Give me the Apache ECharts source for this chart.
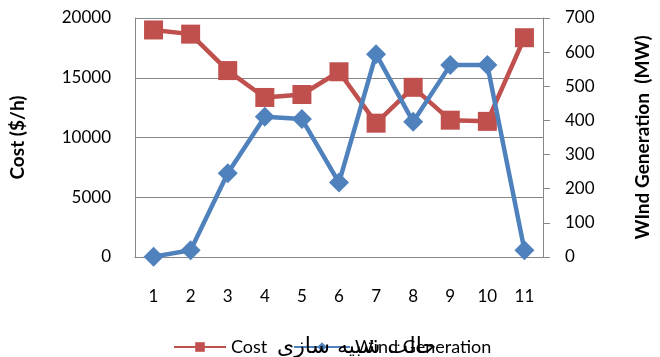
<!DOCTYPE html>
<html><head><meta charset="utf-8">
<script src="https://cdn.jsdelivr.net/npm/echarts@6/dist/echarts.min.js"></script>
<style>html,body{margin:0;padding:0;background:#fff}#c{width:660px;height:357px}</style>
</head><body><div id="c"></div>
<script>
const categories = ['1','2','3','4','5','6','7','8','9','10','11'];
const costValues = [19000, 18650, 15600, 13350, 13600, 15500, 11200, 14200, 11450, 11350, 18350];
const windValues = [1, 20, 245, 411, 404, 218, 594, 396, 562, 562, 20];
const costTicks = [0, 5000, 10000, 15000, 20000];
const windTicks = [0, 100, 200, 300, 400, 500, 600, 700];
const seriesNames = ['Cost', 'Wind Generation'];
const xTitle = 'حالت شبیه سازی';
const leftTitle = 'Cost ($/h)';
const rightTitle = 'WInd Generation  (MW)';

const FONT = 'Lato';
const legendText = {fontFamily: FONT, fontSize: 18, color: '#000'};
const chart = echarts.init(document.getElementById('c'), null, {renderer: 'canvas'});
chart.setOption({
  animation: false,
  backgroundColor: '#fff',
  grid: {left: 126, right: 97, top: 18, bottom: 100, containLabel: false},
  title: {
    text: xTitle, left: 277, top: 336, padding: 0,
    textStyle: {fontFamily: 'DejaVu Sans', fontSize: 22, fontWeight: 'normal', color: '#000'}
  },
  legend: [
    {data: [seriesNames[0]], left: 173, top: 338, padding: 0, itemWidth: 52, itemHeight: 12,
     textStyle: legendText},
    {data: [seriesNames[1]], left: 293, top: 338, padding: 0, itemWidth: 56, itemHeight: 12,
     textStyle: legendText}
  ],
  xAxis: {
    type: 'category', data: categories, boundaryGap: true,
    axisLine: {lineStyle: {color: '#868686', width: 1}},
    axisTick: {show: false},
    axisLabel: {fontFamily: FONT, fontSize: 17, color: '#000', margin: 31}
  },
  yAxis: [
    {
      type: 'value', min: costTicks[0], max: costTicks[costTicks.length-1], interval: 5000,
      name: leftTitle, nameLocation: 'middle', nameGap: 108, nameRotate: 90,
      nameTextStyle: {fontFamily: FONT, fontSize: 19, fontWeight: 'bold', color: '#000'},
      axisLine: {show: true, lineStyle: {color: '#868686'}},
      axisTick: {show: false},
      axisLabel: {fontFamily: FONT, fontSize: 17, color: '#000', margin: 24, formatter: v => String(v)},
      splitLine: {show: true, lineStyle: {color: '#868686', width: 1}}
    },
    {
      type: 'value', min: windTicks[0], max: windTicks[windTicks.length-1], interval: 100,
      position: 'right',
      name: rightTitle, nameLocation: 'middle', nameGap: 90, nameRotate: 90,
      nameTextStyle: {fontFamily: FONT, fontSize: 19, fontWeight: 'bold', color: '#000'},
      axisLine: {show: true, lineStyle: {color: '#868686'}},
      axisTick: {show: true, length: 7, lineStyle: {color: '#868686'}},
      axisLabel: {fontFamily: FONT, fontSize: 17, color: '#000', margin: 22, formatter: v => String(v)},
      splitLine: {show: false}
    }
  ],
  series: [
    {
      name: seriesNames[0], type: 'line', yAxisIndex: 0, data: costValues,
      symbol: 'rect', symbolSize: 19, color: '#C0504D',
      lineStyle: {width: 4.5, color: '#C0504D'},
      itemStyle: {color: '#C0504D'}, z: 2
    },
    {
      name: seriesNames[1], type: 'line', yAxisIndex: 1, data: windValues,
      symbol: 'diamond', symbolSize: 20, color: '#4F81BD',
      lineStyle: {width: 4.5, color: '#4F81BD'},
      itemStyle: {color: '#4F81BD'}, z: 3
    }
  ]
});
</script></body></html>
